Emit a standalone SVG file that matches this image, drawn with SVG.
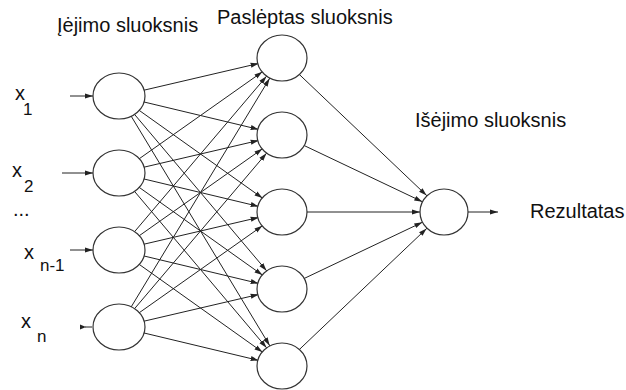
<svg xmlns="http://www.w3.org/2000/svg" width="626" height="390" viewBox="0 0 626 390">
<style>
text{font-family:"Liberation Sans",Arial,sans-serif;fill:#111}
.lbl{font-size:20px}
.sub{font-size:17px}
.node{fill:#fff;stroke:#333;stroke-width:1.2}
.c{stroke:#222;stroke-width:1;fill:none}
.w{marker-end:url(#ah)}
.t{marker-end:url(#tip)}
</style>
<defs>
<marker id="ah" markerUnits="userSpaceOnUse" markerWidth="8" markerHeight="6" refX="32" refY="3" orient="auto">
<path d="M0,0.5 L8,3 L0,5.5 z" fill="#222"/>
</marker>
<marker id="tip" markerUnits="userSpaceOnUse" markerWidth="8" markerHeight="6" refX="8" refY="3" orient="auto">
<path d="M0,0.5 L8,3 L0,5.5 z" fill="#222"/>
</marker>
</defs>
<g id="connectors">
<line class="c t" x1="70" y1="96" x2="93" y2="96"/>
<line class="c t" x1="62" y1="173" x2="93" y2="173"/>
<line class="c t" x1="70" y1="250" x2="93" y2="250"/>
<line class="c" x1="85" y1="327" x2="92" y2="327"/>
<path d="M80,324.5 L86,327 L80,329.5 z" fill="#222"/>
<line class="c t" x1="468" y1="212" x2="498" y2="212"/>
<line class="c w" x1="119" y1="96" x2="282" y2="58"/>
<line class="c w" x1="119" y1="96" x2="282" y2="135"/>
<line class="c w" x1="119" y1="96" x2="282" y2="212"/>
<line class="c w" x1="119" y1="96" x2="282" y2="289"/>
<line class="c w" x1="119" y1="96" x2="282" y2="366"/>
<line class="c w" x1="119" y1="173" x2="282" y2="58"/>
<line class="c w" x1="119" y1="173" x2="282" y2="135"/>
<line class="c w" x1="119" y1="173" x2="282" y2="212"/>
<line class="c w" x1="119" y1="173" x2="282" y2="289"/>
<line class="c w" x1="119" y1="173" x2="282" y2="366"/>
<line class="c w" x1="119" y1="250" x2="282" y2="58"/>
<line class="c w" x1="119" y1="250" x2="282" y2="135"/>
<line class="c w" x1="119" y1="250" x2="282" y2="212"/>
<line class="c w" x1="119" y1="250" x2="282" y2="289"/>
<line class="c w" x1="119" y1="250" x2="282" y2="366"/>
<line class="c w" x1="119" y1="327" x2="282" y2="58"/>
<line class="c w" x1="119" y1="327" x2="282" y2="135"/>
<line class="c w" x1="119" y1="327" x2="282" y2="212"/>
<line class="c w" x1="119" y1="327" x2="282" y2="289"/>
<line class="c w" x1="119" y1="327" x2="282" y2="366"/>
<line class="c w" x1="282" y1="58" x2="444" y2="212"/>
<line class="c w" x1="282" y1="135" x2="444" y2="212"/>
<line class="c w" x1="282" y1="212" x2="444" y2="212"/>
<line class="c w" x1="282" y1="289" x2="444" y2="212"/>
<line class="c w" x1="282" y1="366" x2="444" y2="212"/>
</g>
<g id="in1"><ellipse class="node" cx="119" cy="96" rx="26" ry="23"/></g>
<g id="in2"><ellipse class="node" cx="119" cy="173" rx="26" ry="23"/></g>
<g id="in3"><ellipse class="node" cx="119" cy="250" rx="26" ry="23"/></g>
<g id="in4"><ellipse class="node" cx="119" cy="327" rx="26" ry="23"/></g>
<g id="h1"><ellipse class="node" cx="282" cy="58" rx="25" ry="23"/></g>
<g id="h2"><ellipse class="node" cx="282" cy="135" rx="25" ry="23"/></g>
<g id="h3"><ellipse class="node" cx="282" cy="212" rx="25" ry="23"/></g>
<g id="h4"><ellipse class="node" cx="282" cy="289" rx="25" ry="23"/></g>
<g id="h5"><ellipse class="node" cx="282" cy="366" rx="25" ry="23"/></g>
<g id="out"><ellipse class="node" cx="444" cy="212" rx="24" ry="23"/></g>
<g id="labels">
<text class="lbl" x="57" y="32">Įėjimo sluoksnis</text>
<text class="lbl" x="217" y="24">Paslėptas sluoksnis</text>
<text class="lbl" x="415" y="127">Išėjimo sluoksnis</text>
<text class="lbl" x="530" y="218">Rezultatas</text>
<text class="lbl" x="15" y="100">x</text><text class="sub" x="23" y="115">1</text>
<text class="lbl" x="12" y="177">x</text><text class="sub" x="24" y="192">2</text>
<text class="lbl" x="13" y="216">...</text>
<text class="lbl" x="24" y="259">x</text><text class="sub" x="40" y="271">n-1</text>
<text class="lbl" x="21" y="328">x</text><text class="sub" x="37" y="342">n</text>
</g>
</svg>
